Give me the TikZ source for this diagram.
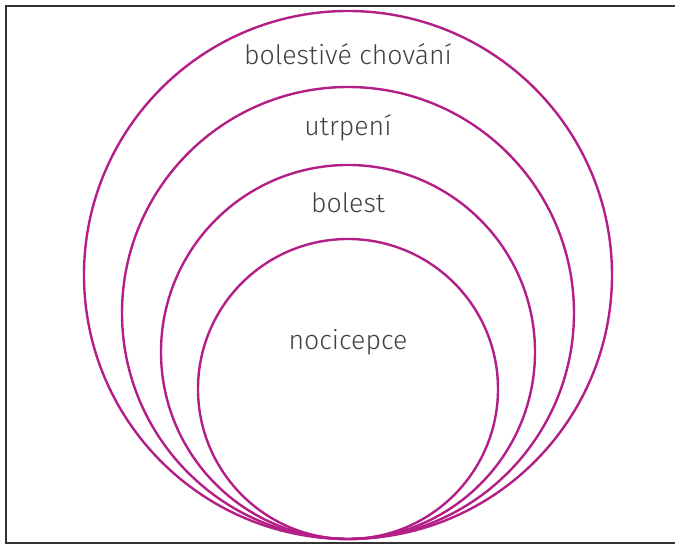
\documentclass[tikz,border=0pt]{standalone}
\usepackage{fontspec}
\setmainfont{Fira Sans Light}
\definecolor{fialova}{RGB}{180,30,135}
\definecolor{seda}{RGB}{64,64,64}
\tikzset{
    kruh/.style={
        draw=fialova,
        line width=1.8pt
    },
    popis/.style={
        text=seda,
        anchor=base,
        inner sep=0pt,
        font=\fontsize{20}{24}\selectfont
    }
}

\begin{document}
\begin{tikzpicture}[
    x=0.75pt,
    y=0.75pt
]
    \useasboundingbox (0,0) rectangle (675,545);

    % Ramecek
    \draw[line width=1.4pt, black!80] (675,539) -- (6,539) -- (6,2) -- (675,2);

    % Kruhy (vsechny se dotykaji dole)
    \draw[kruh] (348,270) circle[radius=264];
    \draw[kruh] (348,232) circle[radius=226];
    \draw[kruh] (348,193) circle[radius=187];
    \draw[kruh] (348,156) circle[radius=150];

    % Popisy
    \node[popis] (chovani)   at (348,480) {bolestivé chování};
    \node[popis] (utrpeni)   at (348,409) {utrpení};
    \node[popis] (bolest)    at (348,332) {bolest};
    \node[popis] (nocicepce) at (348,195) {nocicepce};

\end{tikzpicture}
\end{document}
